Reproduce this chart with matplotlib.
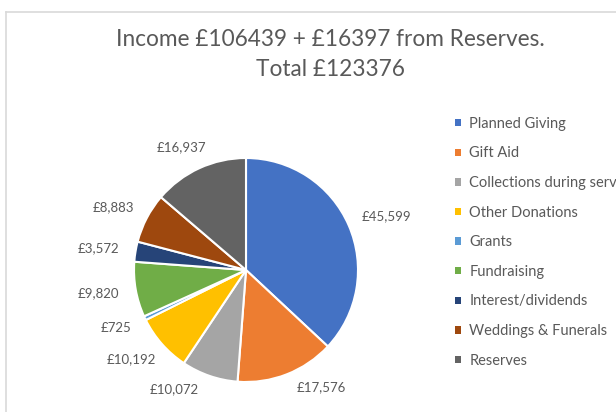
import numpy as np
import matplotlib.pyplot as plt
from matplotlib.lines import Line2D
from matplotlib.patches import Patch

# data
categories = ['Planned Giving', 'Gift Aid', 'Collections during services',
              'Other Donations', 'Grants', 'Fundraising', 'Interest/dividends',
              'Weddings & Funerals', 'Reserves']
values = [45599, 17576, 10072, 10192, 725, 9820, 3572, 8883, 16937]
colors = ['#4472C4', '#ED7D31', '#A5A5A5', '#FFC000', '#5B9BD5',
          '#70AD47', '#264478', '#9E480E', '#636363']

plt.rcParams['font.family'] = ['Lato', 'DejaVu Sans']
txt = '#595959'

W, H = 616, 412
fig = plt.figure(figsize=(W / 100, H / 100), dpi=100)

# pie centre (246, 270) px, radius 112 px, limits +-1.5
cx, cy, r = 246, 270, 112
span = 1.5 * r * 2
ax = fig.add_axes([(cx - span / 2) / W, (H - cy - span / 2) / H, span / W, span / H])

wedges, _ = ax.pie(values, colors=colors, startangle=90, counterclock=False,
                   wedgeprops=dict(edgecolor='white', linewidth=1.5))
ax.set_xlim(-1.5, 1.5)
ax.set_ylim(-1.5, 1.5)

# Excel-style "outside end" labels: box edge touches a circle just outside the pie
# (the two bottom labels were pushed round a little by Excel's best fit)
nudge = {1: 8, 2: -9}
fig.canvas.draw()
renderer = fig.canvas.get_renderer()
inv = ax.transData.inverted()
for i, (w, v) in enumerate(zip(wedges, values)):
    th = np.deg2rad((w.theta1 + w.theta2) / 2 + nudge.get(i, 0))
    c, s = np.cos(th), np.sin(th)
    t = ax.text(1.15 * c, 1.15 * s, '£{:,}'.format(v), ha='center', va='center',
                color=txt, fontsize=9.5)
    bb = t.get_window_extent(renderer)
    (x0, y0), (x1, y1) = inv.transform([[bb.x0, bb.y0], [bb.x1, bb.y1]])
    t.set_position((1.15 * c + (x1 - x0) / 2 * c, 1.15 * s + (y1 - y0) / 2 * s))

fig.suptitle('Income £106439 + £16397 from Reserves.\nTotal £123376',
             x=330 / W, y=1 - 29 / H, color=txt, fontsize=16.3, linespacing=1.5)

handles = [Patch(facecolor=c, edgecolor='none') for c in colors]
fig.legend(handles, categories, loc='upper left', bbox_to_anchor=(449 / W, 1 - 111 / H),
           frameon=False, fontsize=10.5, labelcolor=txt, handlelength=0.4,
           handleheight=0.4, handletextpad=0.6, labelspacing=1.07, borderaxespad=0)

# chart-area border (only top/left visible)
fig.add_artist(Line2D([6 / W, 1], [1 - 12 / H, 1 - 12 / H], color='#D9D9D9', lw=1.2))
fig.add_artist(Line2D([6 / W, 6 / W], [0, 1 - 12 / H], color='#D9D9D9', lw=1.2))

fig.savefig('out.png', dpi=100)
